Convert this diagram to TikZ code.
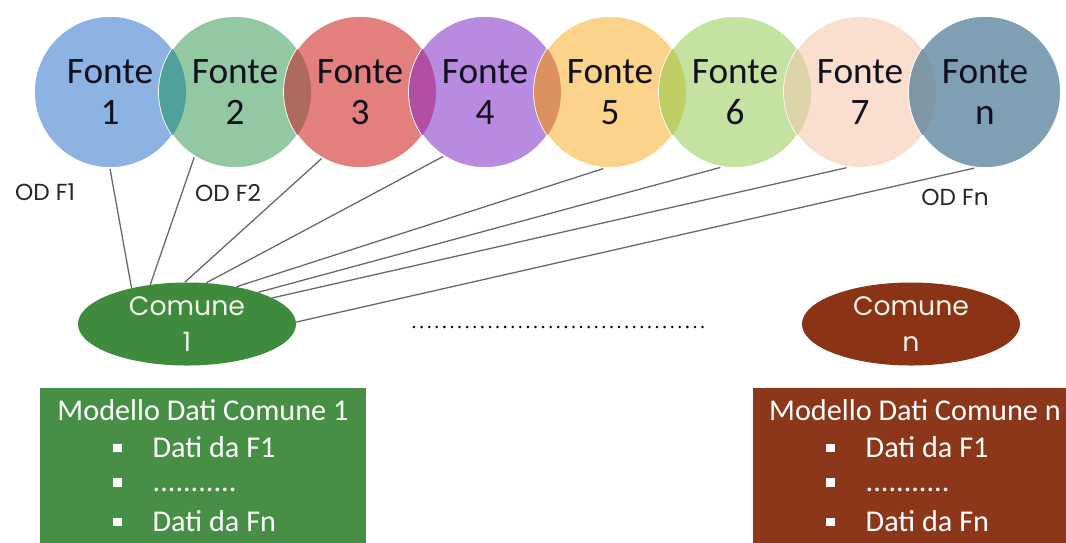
\documentclass[tikz,border=0pt]{standalone}
\usepackage{fontspec}
\usepackage{xcolor}
\usepackage{tikz}
\usetikzlibrary{positioning,shapes.geometric}
\newfontfamily\fontcal{Carlito}
\newfontfamily\fontgeo{Poppins}
\newcommand{\modbullet}{\rule[0.17em]{6pt}{6pt}\hspace{22pt}}
\definecolor{fonteink}{HTML}{10101E}
\definecolor{srcone}{HTML}{8DB3E2}
\definecolor{srctwo}{HTML}{92C9A3}
\definecolor{srcthree}{HTML}{E3807E}
\definecolor{srcfour}{HTML}{B88AE0}
\definecolor{srcfive}{HTML}{FCD38A}
\definecolor{srcsix}{HTML}{C5E3A0}
\definecolor{srcseven}{HTML}{FADFCF}
\definecolor{srcn}{HTML}{7F9FB5}
\definecolor{lensA}{HTML}{4FA09A}
\definecolor{lensB}{HTML}{AE6A5C}
\definecolor{lensC}{HTML}{B04FA4}
\definecolor{lensD}{HTML}{DB925F}
\definecolor{lensE}{HTML}{BFCF63}
\definecolor{lensF}{HTML}{DDD3A8}
\definecolor{lensG}{HTML}{8098A5}
\definecolor{comgreen}{HTML}{3E8B3E}
\definecolor{combrown}{HTML}{8B3415}
\definecolor{modgreen}{HTML}{468F45}
\definecolor{modbrown}{HTML}{8C361A}
\definecolor{comuneink}{HTML}{F2F2E8}

\begin{document}
\begin{tikzpicture}[
  x=0.025cm, y=-0.025cm,
  fonte/.style={circle,draw=white,line width=1.2pt,minimum size=3.8cm,inner sep=0pt,align=center,text=fonteink,font=\fontcal\fontsize{26.5}{29}\selectfont},
  comune/.style={ellipse,minimum width=5.45cm,minimum height=2.075cm,inner sep=0pt,align=center,text=comuneink,font=\fontgeo\fontsize{19}{26}\selectfont},
  modello/.style={rectangle,anchor=north west,minimum width=8.15cm,minimum height=3.9cm,inner sep=0pt},
  riga/.style={anchor=west,inner sep=0pt,text=white,font=\fontcal\fontsize{21.5}{24}\selectfont},
  odlabel/.style={font=\fontgeo\fontsize{16.5}{18}\selectfont,text=black!85},
  link/.style={draw=black!60,line width=0.9pt},
]
\useasboundingbox (0,0) rectangle (1066,542);

% sorgenti
\node[fonte,fill=srcone] (f1) at (110,92) {Fonte\\1};
\node[fonte,fill=srctwo] (f2) at (235,92) {Fonte\\2};
\begin{scope}\clip (f1.center) circle (1.9cm); \fill[lensA] (f2.center) circle (1.9cm);\end{scope}
\node[fonte,fill=srcthree] (f3) at (360,92) {Fonte\\3};
\begin{scope}\clip (f2.center) circle (1.9cm); \fill[lensB] (f3.center) circle (1.9cm);\end{scope}
\node[fonte,fill=srcfour] (f4) at (485,92) {Fonte\\4};
\begin{scope}\clip (f3.center) circle (1.9cm); \fill[lensC] (f4.center) circle (1.9cm);\end{scope}
\node[fonte,fill=srcfive] (f5) at (610,92) {Fonte\\5};
\begin{scope}\clip (f4.center) circle (1.9cm); \fill[lensD] (f5.center) circle (1.9cm);\end{scope}
\node[fonte,fill=srcsix] (f6) at (735,92) {Fonte\\6};
\begin{scope}\clip (f5.center) circle (1.9cm); \fill[lensE] (f6.center) circle (1.9cm);\end{scope}
\node[fonte,fill=srcseven] (f7) at (860,92) {Fonte\\7};
\begin{scope}\clip (f6.center) circle (1.9cm); \fill[lensF] (f7.center) circle (1.9cm);\end{scope}
\node[fonte,fill=srcn] (fn) at (985,92) {Fonte\\n};
\begin{scope}\clip (f7.center) circle (1.9cm); \fill[lensG] (fn.center) circle (1.9cm);\end{scope}

\node[odlabel] (od1) at (45,192) {OD F1};
\node[odlabel] (od2) at (228,193) {OD F2};
\node[odlabel] (odn) at (955,197) {OD Fn};

% comuni
\node[comune,fill=comgreen] (c1) at (187,324) {Comune\\1};
\node[comune,fill=combrown] (cn) at (911,324) {Comune\\n};

\draw[link] (f1.270) -- (c1.147);
\draw[link] (f2.238) -- (c1.133);
\draw[link] (f3.240) -- (c1.93);
\draw[link] (f4.237) -- (c1.65);
\draw[link] (f5.265) -- (c1.37);
\draw[link] (f6.259) -- (c1.24);
\draw[link] (f7.260) -- (c1.17);
\draw[link] (fn.262) -- (c1.1);

\coordinate (gapL) at (414,327);
\coordinate (gapR) at (707,327);
\draw[line width=2pt,line cap=round,dash pattern=on 0pt off 5.4pt] (gapL) -- (gapR);

% modelli dati
\node[modello,fill=modgreen] (m1) at (40,388) {};
\node[riga,anchor=center] (m1t) at (203,410) {Modello Dati Comune 1};
\node[riga] (m1a) at (113,447) {\modbullet Dati da F1};
\node[riga] (m1b) at (113,485) {\modbullet ...........};
\node[riga] (m1c) at (113,521) {\modbullet Dati da Fn};

\node[modello,fill=modbrown] (mn) at (753,388) {};
\node[riga,anchor=center] (mnt) at (915,410) {Modello Dati Comune n};
\node[riga] (mna) at (826,447) {\modbullet Dati da F1};
\node[riga] (mnb) at (826,485) {\modbullet ...........};
\node[riga] (mnc) at (826,521) {\modbullet Dati da Fn};
\end{tikzpicture}
\end{document}
